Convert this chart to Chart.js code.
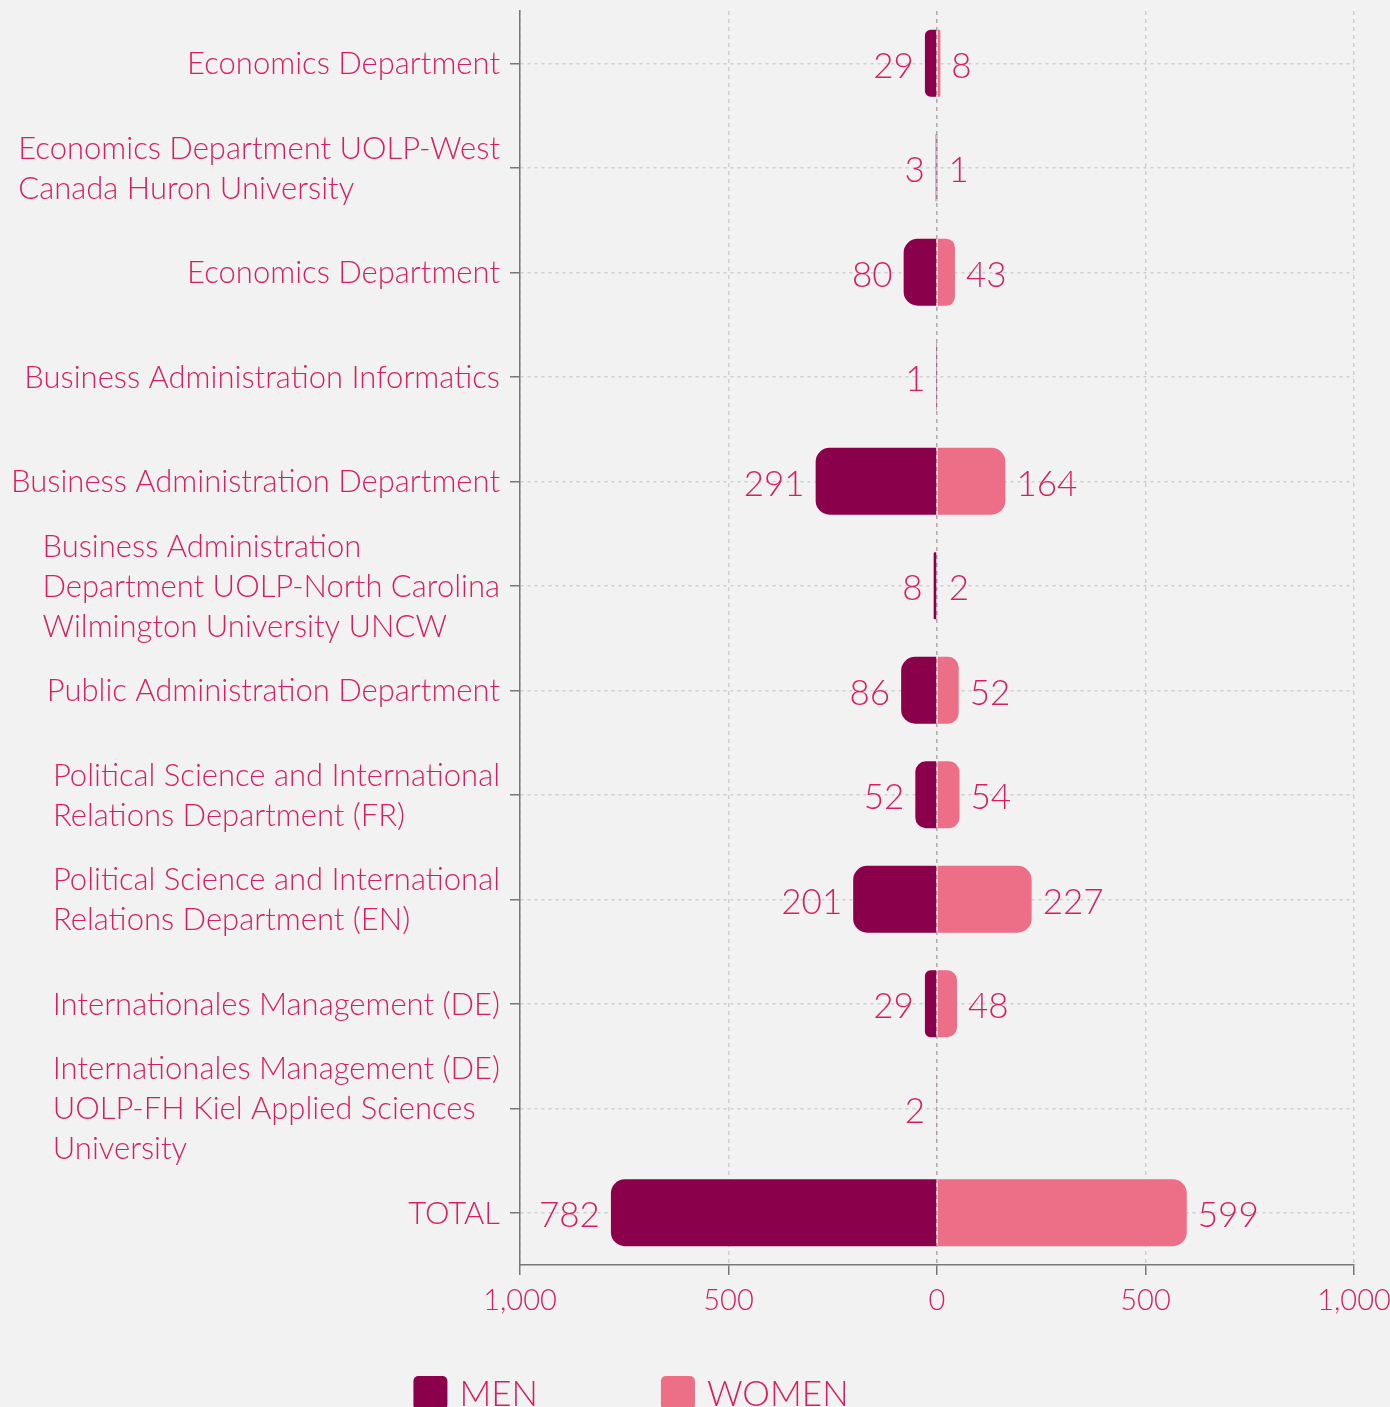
<!DOCTYPE html>
<html>
<head>
<meta charset="utf-8">
<script src="https://cdn.jsdelivr.net/npm/chart.js@4"></script>
<style>
  html, body { margin: 0; padding: 0; background: #f2f2f2; }
  #wrap { position: relative; width: 1390px; height: 1407px; overflow: hidden; }
</style>
</head>
<body>
<div id="wrap"><canvas id="c"></canvas></div>
<script>
const categories = [
  ["Economics Department"],
  ["Economics Department UOLP-West", "Canada Huron University"],
  ["Economics Department"],
  ["Business Administration Informatics"],
  ["Business Administration Department"],
  ["Business Administration", "Department UOLP-North Carolina", "Wilmington University UNCW"],
  ["Public Administration Department"],
  ["Political Science and International", "Relations Department (FR)"],
  ["Political Science and International", "Relations Department (EN)"],
  ["Internationales Management (DE)"],
  ["Internationales Management (DE)", "UOLP-FH Kiel Applied Sciences", "University"],
  ["TOTAL"]
];
const men   = [29, 3, 80, 1, 291, 8, 86, 52, 201, 29, 2, 782];
const women = [8, 1, 43, 0, 164, 2, 52, 54, 227, 48, 0, 599];
const seriesNames = ["MEN", "WOMEN"];
const xTicks = [-1000, -500, 0, 500, 1000];

const FONT = "Lato";
const TXT = "#d81e5b";
const MEN_C = "#8b004b";
const WOMEN_C = "#ed6f87";

Chart.defaults.font.family = FONT;
Chart.defaults.font.weight = 300;
Chart.defaults.color = TXT;

const yLabelPlugin = {
  id: 'yLabels',
  afterDraw(chart) {
    const ctx = chart.ctx;
    const ys = chart.scales.y;
    ctx.save();
    ctx.font = `300 31px ${FONT}`;
    ctx.fillStyle = TXT;
    ctx.textAlign = 'left';
    ctx.textBaseline = 'middle';
    const rightEdge = ys.right - 20;
    const lh = 40;
    chart.data.labels.forEach((lines, i) => {
      const yc = ys.getPixelForTick(i);
      const maxW = Math.max(...lines.map(l => ctx.measureText(l).width));
      const x0 = rightEdge - maxW;
      const y0 = yc - (lines.length - 1) * lh / 2;
      lines.forEach((l, k) => ctx.fillText(l, x0, y0 + k * lh + 1));
    });
    ctx.restore();
  }
};

const valueLabelPlugin = {
  id: 'valueLabels',
  afterDatasetsDraw(chart) {
    const ctx = chart.ctx;
    ctx.save();
    ctx.font = `300 35px ${FONT}`;
    ctx.fillStyle = TXT;
    ctx.textBaseline = 'middle';
    chart.data.datasets.forEach((ds, di) => {
      const meta = chart.getDatasetMeta(di);
      meta.data.forEach((el, i) => {
        const v = ds.data[i];
        if (!v) return;
        if (v < 0) {
          ctx.textAlign = 'right';
          ctx.fillText(String(Math.abs(v)), el.x - 11, el.y + 3);
        } else {
          ctx.textAlign = 'left';
          ctx.fillText(String(v), el.x + 11, el.y + 3);
        }
      });
    });
    ctx.restore();
  }
};

const legendPlugin = {
  id: 'customLegend',
  afterDraw(chart) {
    const ctx = chart.ctx;
    ctx.save();
    ctx.font = `300 35px ${FONT}`;
    ctx.textBaseline = 'middle';
    ctx.textAlign = 'left';
    const box = 34, gap = 12, spacing = 123;
    const items = chart.data.datasets.map(ds => ({ label: ds.label, color: ds.backgroundColor, w: box + gap + ctx.measureText(ds.label).width }));
    const total = items.reduce((s, it) => s + it.w, 0) + spacing * (items.length - 1);
    let x = 631 - total / 2;
    const yTop = 1376;
    items.forEach(it => {
      ctx.fillStyle = it.color;
      ctx.beginPath();
      ctx.roundRect(x, yTop, box, box, 5);
      ctx.fill();
      ctx.fillStyle = TXT;
      ctx.fillText(it.label, x + box + gap, yTop + box / 2 + 2);
      x += it.w + spacing;
    });
    ctx.restore();
  }
};

new Chart(document.getElementById('c'), {
  type: 'bar',
  data: {
    labels: categories,
    datasets: [
      { label: seriesNames[0], data: men.map(v => -v), backgroundColor: MEN_C, borderRadius: 14, borderSkipped: 'start', barPercentage: 0.8, categoryPercentage: 0.8 },
      { label: seriesNames[1], data: women, backgroundColor: WOMEN_C, borderRadius: 14, borderSkipped: 'start', barPercentage: 0.8, categoryPercentage: 0.8 }
    ]
  },
  options: {
    indexAxis: 'y',
    responsive: true,
    maintainAspectRatio: false,
    animation: false,
    layout: { padding: { top: 11, right: 36, bottom: 0, left: 0 } },
    plugins: { legend: { display: false }, tooltip: { enabled: false } },
    scales: {
      x: {
        stacked: true,
        min: xTicks[0],
        max: xTicks[xTicks.length - 1],
        afterBuildTicks(s) { s.ticks = xTicks.map(v => ({ value: v })); },
        afterFit(s) { s.height = 142; s.paddingLeft = 0; s.paddingRight = 0; },
        border: { display: true, color: '#777', width: 1.5, dash: [4, 4] },
        grid: {
          color: (c) => (c.tick && c.tick.value === 0) ? '#aaa' : '#cfcfcf',
          lineWidth: 1.5,
          tickColor: '#777',
          tickBorderDash: [],
          tickLength: 10,
          tickWidth: 1.5
        },
        ticks: {
          color: TXT,
          font: { size: 29, weight: 300 },
          padding: 8,
          maxRotation: 0,
          callback: (v) => Math.abs(v).toLocaleString('en-US')
        }
      },
      y: {
        stacked: true,
        afterFit(s) { s.width = 520; s.paddingTop = 0; s.paddingBottom = 0; },
        border: { display: true, color: '#777', width: 1.5, dash: [3, 4] },
        grid: {
          offset: false,
          color: '#cfcfcf',
          lineWidth: 1.5,
          tickColor: '#777',
          tickBorderDash: [],
          tickLength: 10,
          tickWidth: 1.5
        },
        ticks: { display: false }
      }
    }
  },
  plugins: [yLabelPlugin, valueLabelPlugin, legendPlugin]
});
</script>
</body>
</html>
